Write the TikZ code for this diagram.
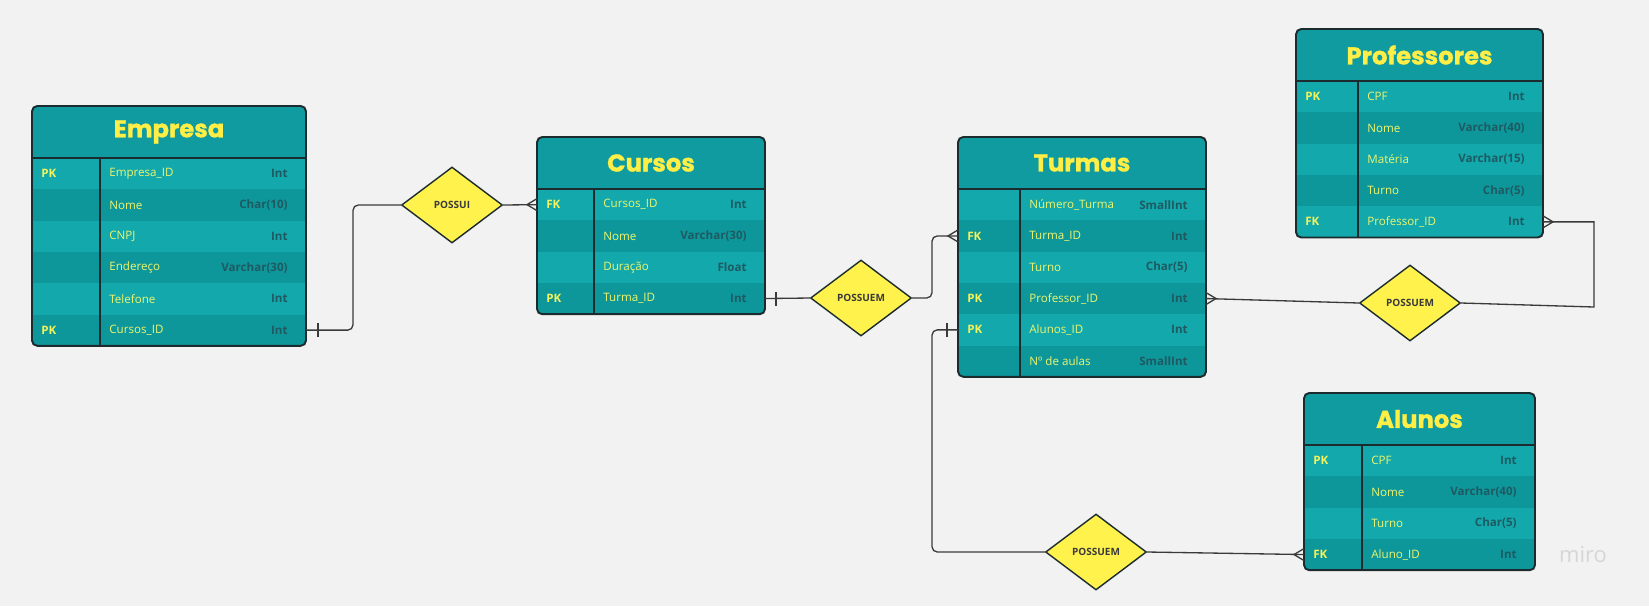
\documentclass[tikz,border=0pt]{standalone}
\usepackage{fontspec}
\setmainfont{Open Sans}
\newfontfamily\titlefont{Poppins}[BoldFeatures={FakeBold=1.2}]
\usetikzlibrary{shapes.geometric}

\definecolor{paper}{HTML}{F2F2F2}
\definecolor{headfill}{HTML}{0F9B9F}
\definecolor{rowlight}{HTML}{12A8AC}
\definecolor{rowdark}{HTML}{0E979B}
\definecolor{edge}{HTML}{1C2B2E}
\definecolor{fieldcol}{HTML}{EEF56C}
\definecolor{keycol}{HTML}{F4F35A}
\definecolor{typecol}{HTML}{1E5A62}
\definecolor{titlecol}{HTML}{FFEE45}
\definecolor{relfill}{HTML}{FFF24D}
\definecolor{linkcol}{HTML}{3A3A3A}

\tikzset{
  tabhead/.style = {rectangle, fill=headfill, inner sep=0, outer sep=0,
    minimum height=1.04cm, text=titlecol, font=\titlefont\bfseries\fontsize{13.8}{15}\selectfont},
  tabrow/.style = {rectangle, inner sep=0, outer sep=0, minimum height=0.626cm},
  keytext/.style = {inner sep=0, text=keycol, font=\bfseries\fontsize{6.6}{7}\selectfont},
  fieldtext/.style = {inner sep=0, text=fieldcol, font=\fontsize{6.6}{7}\selectfont},
  typetext/.style = {inner sep=0, text=typecol, font=\bfseries\fontsize{6.6}{7}\selectfont},
  frame/.style = {draw=edge, line width=1.1pt},
  rel/.style = {shape=diamond, draw=edge, line width=0.8pt, fill=relfill, inner sep=0,
    minimum width=2.02cm, minimum height=1.52cm, text=linkcol,
    font=\bfseries\fontsize{5.7}{6}\selectfont},
  link/.style = {draw=linkcol, line width=0.75pt}
}

% #1 name, #2 left, #3 top, #4 width, #5 key column, #6 rows, #7 title, #8 rows list
\newcommand{\ertable}[8]{%
  \begin{scope}
    \clip[rounded corners=3pt] (#2,#3) rectangle ++(#4,52+#6*31.3);
    \node[tabhead, minimum width=#4*0.02cm, anchor=north west] (#1) at (#2,#3) {#7};
    \foreach \k/\f/\t [count=\i] in {#8} {
      \pgfmathsetmacro\ry{#3+52+(\i-1)*31.3}
      \ifodd\i\colorlet{rowfill}{rowlight}\else\colorlet{rowfill}{rowdark}\fi
      \node[tabrow, fill=rowfill, minimum width=#4*0.02cm, anchor=north west] (#1-\i) at (#2,\ry) {};
      \node[keytext, anchor=west] (#1-\i-k) at (#2+9,\ry+15.65) {\k};
      \node[fieldtext, anchor=west] (#1-\i-f) at (#2+#5+9,\ry+15.65) {\f};
      \node[typetext, anchor=east] (#1-\i-t) at (#2+#4-18,\ry+15.65) {\t};
    }
  \end{scope}
  \draw[frame] (#2,#3+52) -- ++(#4,0);
  \draw[frame] (#2+#5,#3+52) -- ++(0,#6*31.3);
  \draw[frame, rounded corners=3pt] (#2,#3) rectangle ++(#4,52+#6*31.3);
}

\begin{document}
\begin{tikzpicture}[x=0.02cm, y=-0.02cm]
  \fill[paper] (0,0) rectangle (1649,606);
  \useasboundingbox (0,0) rectangle (1649,606);

  % tables
  \ertable{emp}{32}{106}{274}{68}{6}{Empresa}{PK/Empresa\_ID/Int, /Nome/Char(10), /CNPJ/Int,
    /Endereço/Varchar(30), /Telefone/Int, PK/Cursos\_ID/Int}
  \ertable{cur}{537}{137}{228}{57}{4}{Cursos}{FK/Cursos\_ID/Int, /Nome/Varchar(30),
    /Duração/Float, PK/Turma\_ID/Int}
  \ertable{tur}{958}{137}{248}{62}{6}{Turmas}{/Número\_Turma/SmallInt, FK/Turma\_ID/Int,
    /Turno/Char(5), PK/Professor\_ID/Int, PK/Alunos\_ID/Int, /Nº de aulas/SmallInt}
  \ertable{prof}{1296}{29}{247}{62}{5}{Professores}{PK/CPF/Int, /Nome/Varchar(40),
    /Matéria/Varchar(15), /Turno/Char(5), FK/Professor\_ID/Int}
  \ertable{alu}{1304}{393}{231}{58}{4}{Alunos}{PK/CPF/Int, /Nome/Varchar(40),
    /Turno/Char(5), FK/Aluno\_ID/Int}

  % relations
  \node[rel] (possui) at (452,205) {POSSUI};
  \node[rel] (pcur) at (861,298) {POSSUEM};
  \node[rel] (pprof) at (1410,303) {POSSUEM};
  \node[rel] (palu) at (1096,552) {POSSUEM};

  \coordinate (b1) at (353,0);
  \coordinate (b2) at (932,0);
  \coordinate (b3) at (1594,307);

  % connectors
  \draw[link, rounded corners=3pt] (emp-6.east) -| (b1 |- possui.west) -- (possui.west);
  \draw[link] (emp-6.east) ++(12,-7) -- ++(0,14);
  \draw[link] (possui.east) -- (cur-1.west);
  \draw[link] (cur-1.west) ++(0,-6) -- ++(-10,6) -- ++(10,6);

  \draw[link] (cur-4.east) -- (pcur.west);
  \draw[link] (cur-4.east) ++(11,-7) -- ++(0,14);
  \draw[link, rounded corners=3pt] (pcur.east) -| (b2 |- tur-2.west) -- (tur-2.west);
  \draw[link] (tur-2.west) ++(0,-6) -- ++(-10,6) -- ++(10,6);

  \draw[link, rounded corners=3pt] (tur-5.west) -| (b2 |- palu.west) -- (palu.west);
  \draw[link] (tur-5.west) ++(-11,-7) -- ++(0,14);
  \draw[link] (palu.east) -- (alu-4.west);
  \draw[link] (alu-4.west) ++(0,-6) -- ++(-10,6) -- ++(10,6);

  \draw[link] (tur-4.east) -- (pprof.west);
  \draw[link] (tur-4.east) ++(0,-6) -- ++(10,6) -- ++(-10,6);
  \draw[link] (pprof.east) -- (b3) |- (prof-5.east);
  \draw[link] (prof-5.east) ++(0,-6) -- ++(10,6) -- ++(-10,6);

  % watermark
  \node[text=black!16, font=\fontsize{12.5}{13}\selectfont] (miro) at (1583,555) {miro};
\end{tikzpicture}
\end{document}
